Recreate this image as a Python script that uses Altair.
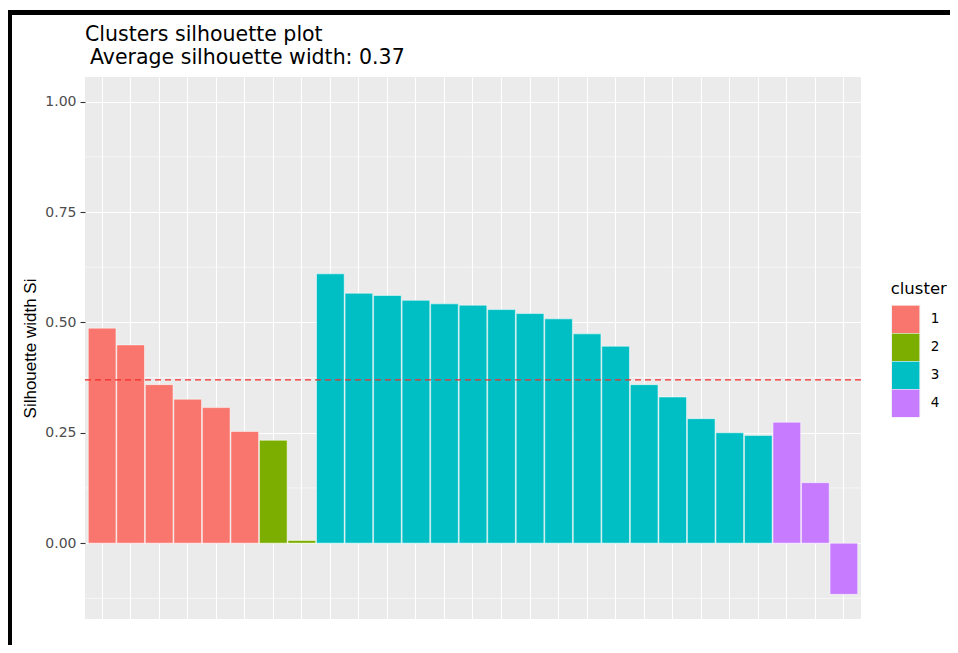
import altair as alt
import pandas as pd

# ---- data ----
cluster = ["1"] * 6 + ["2"] * 2 + ["3"] * 16 + ["4"] * 3
sil_width = [
    0.487, 0.449, 0.359, 0.326, 0.307, 0.253,          # cluster 1
    0.233, 0.006,                                      # cluster 2
    0.610, 0.566, 0.561, 0.550, 0.542, 0.539, 0.529,   # cluster 3
    0.520, 0.508, 0.474, 0.446, 0.359, 0.331, 0.282,
    0.250, 0.244,
    0.274, 0.137, -0.116,                              # cluster 4
]
obs_order = list(range(1, len(sil_width) + 1))
avg_width = 0.37
cluster_names = ["1", "2", "3", "4"]
cluster_colors = ["#F8766D", "#7CAE00", "#00BFC4", "#C77CFF"]
y_ticks = [0.0, 0.25, 0.5, 0.75, 1.0]
y_minor = [-0.125, 0.125, 0.375, 0.625, 0.875]
title_lines = ["Clusters silhouette plot", "Average silhouette width: 0.37"]

df = pd.DataFrame({"obs": obs_order, "cluster": cluster, "sil": sil_width})
ydom = [-0.1718, 1.0558]
yscale = alt.Scale(domain=ydom, nice=False, zero=False)
yaxis = alt.Axis(
    values=y_ticks, format=".2f", title="Silhouette width Si",
    grid=True, gridColor="white", gridWidth=1.1,
    domain=False, tickColor="#333333", tickSize=5, tickWidth=1.1,
    labelFont="DejaVu Sans", labelFontSize=14, labelColor="#4D4D4D",
    labelPadding=4,
    titleFont="Liberation Sans", titleFontSize=17, titleFontWeight="normal",
    titleColor="black", titleX=-54.5, titleY=271, titleAngle=270,
    titleBaseline="middle", titleAlign="center",
)

minor = alt.Chart(pd.DataFrame({"sil": y_minor})).mark_rule(
    color="white", strokeWidth=0.6
).encode(y=alt.Y("sil:Q", scale=yscale, axis=yaxis))

bars = alt.Chart(df).mark_bar(
    stroke="white", strokeWidth=1, strokeOpacity=0.5
).encode(
    x=alt.X(
        "obs:O", sort=None,
        scale=alt.Scale(paddingInner=0.03, paddingOuter=0.115),
        axis=alt.Axis(labels=False, ticks=False, domain=False, title=None,
                      grid=True, gridColor="white", gridWidth=1.1,
                      bandPosition=0.5),
    ),
    y=alt.Y("sil:Q", scale=yscale, axis=yaxis),
    color=alt.Color(
        "cluster:N",
        scale=alt.Scale(domain=cluster_names, range=cluster_colors),
        legend=alt.Legend(
            title="cluster", orient="none", legendX=805.7, legendY=204,
            titleFont="DejaVu Sans", titleFontSize=16.5, titleFontWeight="normal",
            titleColor="black", titlePadding=8,
            labelFont="DejaVu Sans", labelFontSize=13.5, labelColor="black",
            symbolType="square", symbolSize=810, symbolStrokeColor="#F2F2F2",
            symbolStrokeWidth=1, symbolOpacity=1,
            labelOffset=10, rowPadding=0, padding=0, clipHeight=27.7,
        ),
    ),
)

avg = alt.Chart(pd.DataFrame({"sil": [avg_width]})).mark_rule(
    color="#F22B2B", strokeWidth=1.3, strokeDash=[6, 4]
).encode(y=alt.Y("sil:Q", scale=yscale, axis=yaxis))

frame_top = alt.Chart(pd.DataFrame({"k": [0]})).mark_rule(
    color="black", strokeWidth=5
).encode(x=alt.value(-78), x2=alt.value(873), y=alt.value(-64.5))
frame_left = alt.Chart(pd.DataFrame({"k": [0]})).mark_rule(
    color="black", strokeWidth=5
).encode(x=alt.value(-75.5), y=alt.value(-67), y2=alt.value(580))

t1 = alt.Chart(pd.DataFrame({"t": [title_lines[0]]})).mark_text(
    align="left", baseline="alphabetic", font="DejaVu Sans", fontSize=20.5, color="black"
).encode(x=alt.value(0), y=alt.value(-36), text="t:N")
t2 = alt.Chart(pd.DataFrame({"t": [title_lines[1]]})).mark_text(
    align="left", baseline="alphabetic", font="DejaVu Sans", fontSize=20.5, color="black"
).encode(x=alt.value(5), y=alt.value(-13), text="t:N")

chart = alt.layer(minor, bars, avg, frame_top, frame_left, t1, t2).properties(
    width=776, height=542,
    padding={"left": 77, "top": 69, "right": 89, "bottom": 26},
    autosize=alt.AutoSizeParams(type="none"),
    background="white",
).configure_view(fill="#EBEBEB", stroke=None)

chart.save("out.html", embed_options={"renderer": "svg", "actions": False})
